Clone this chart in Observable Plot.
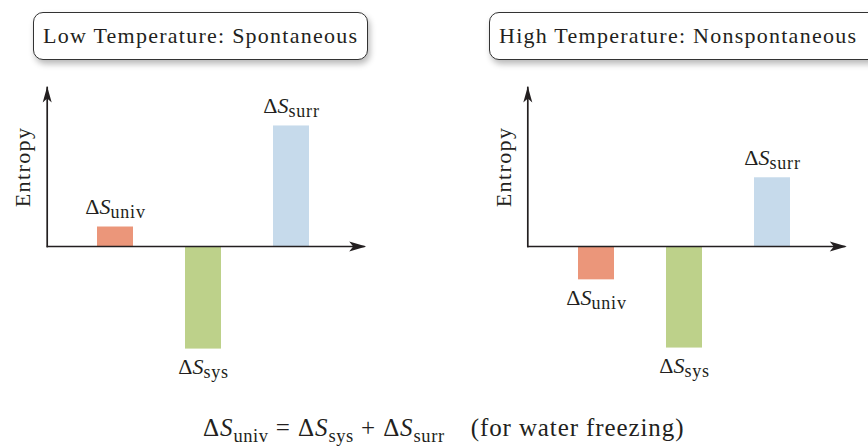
<!DOCTYPE html>
<html><head><meta charset="utf-8">
<script src="https://cdn.jsdelivr.net/npm/d3@7"></script>
<script src="https://cdn.jsdelivr.net/npm/@observablehq/plot@0.6"></script>
<style>
html,body{margin:0;padding:0;background:#fff;overflow:hidden;}
#wrap{position:relative;width:868px;height:446px;overflow:hidden;font-family:"Liberation Serif","Times New Roman",serif;color:#231f20;}
.tbox{position:absolute;top:12px;height:48px;box-sizing:border-box;border:1.4px solid #333;border-radius:10px;background:#fff;box-shadow:2px 4px 6px rgba(0,0,0,0.28);font-size:22px;letter-spacing:1.25px;line-height:45px;padding-left:9px;white-space:nowrap;}
.panel{position:absolute;top:70px;}
#formula{position:absolute;left:203px;top:414px;font-size:25px;letter-spacing:0.9px;line-height:28px;white-space:nowrap;}
#formula sub{font-size:18.5px;letter-spacing:0.6px;line-height:0;vertical-align:-0.3em;}
</style></head>
<body><div id="wrap"></div>
<script>
// ---- data ----
const categories = ["univ", "sys", "surr"];
const lowTempValues = [1.9, -10, 11.75];
const highTempValues = [-3.25, -9.9, 6.7];
const panelTitles = ["Low Temperature: Spontaneous", "High Temperature: Nonspontaneous"];
const barColors = ["#EB967A", "#BDD18A", "#C6DAEB"];
const yLabel = "Entropy";
const footNote = "(for water freezing)";

const ink = "#231f20";
const serif = "'Liberation Serif', 'Times New Roman', serif";
const wrap = document.getElementById("wrap");

const arrowUp = {draw(ctx) { ctx.moveTo(0, -1); ctx.lineTo(4.5, 15); ctx.lineTo(0, 11); ctx.lineTo(-4.5, 15); ctx.closePath(); }};
const arrowRight = {draw(ctx) { ctx.moveTo(1, 0); ctx.lineTo(-16, -5); ctx.lineTo(-12, 0); ctx.lineTo(-16, 5); ctx.closePath(); }};

function panel(values, title, pageLeft, marginLeft, boxLeft, boxWidth) {
  const data = categories.map((c, i) => ({name: c, value: values[i], label: "ΔS" + c}));
  const box = document.createElement("div");
  box.className = "tbox";
  box.style.left = boxLeft + "px";
  box.style.width = boxWidth + "px";
  box.textContent = title;
  wrap.appendChild(box);

  const svg = Plot.plot({
    width: 434, height: 330,
    marginTop: 17, marginBottom: 154, marginLeft, marginRight: 434 - marginLeft - 318,
    style: {background: "transparent", fontFamily: serif, color: ink, overflow: "visible"},
    x: {domain: categories, paddingInner: 0.594, paddingOuter: 0.589, align: 0.473, axis: null},
    y: {domain: [0, 15.5], axis: null},
    color: {domain: categories, range: barColors},
    marks: [
      Plot.barY(data, {x: "name", y: "value", fill: "name"}),
      Plot.frame({anchor: "left", stroke: ink, strokeWidth: 1.7}),
      Plot.ruleY([0], {stroke: ink, strokeWidth: 1.7}),
      Plot.dot([0], {frameAnchor: "top-left", symbol: arrowUp, fill: ink, stroke: "none"}),
      Plot.dot([0], {frameAnchor: "bottom-right", symbol: arrowRight, fill: ink, stroke: "none"}),
      Plot.text(data.filter(d => d.value > 0), {x: "name", y: "value", text: "label", dy: -13, lineAnchor: "bottom", fontSize: 22, fill: ink}),
      Plot.text(data.filter(d => d.value < 0), {x: "name", y: "value", text: "label", dy: 25, lineAnchor: "bottom", fontSize: 22, fill: ink}),
      Plot.text([yLabel], {frameAnchor: "left", rotate: -90, textAnchor: "middle", lineAnchor: "bottom", dx: -17, fontSize: 22, fill: ink})
    ]
  });
  d3.select(svg).selectAll("text").each(function () {
    const t = this.textContent;
    const s = d3.select(this);
    if (t === yLabel) { s.attr("letter-spacing", 1.4); return; }
    if (!t.startsWith("ΔS")) return;
    s.text(null);
    s.append("tspan").text("Δ");
    s.append("tspan").attr("font-style", "italic").text("S");
    s.append("tspan").attr("font-size", 18).attr("letter-spacing", 0.8).attr("dy", "0.22em").text(t.slice(2));
  });
  const holder = document.createElement("div");
  holder.className = "panel";
  holder.style.left = pageLeft + "px";
  holder.appendChild(svg);
  wrap.appendChild(holder);
}

panel(lowTempValues, panelTitles[0], 0, 46.7, 33, 335);
panel(highTempValues, panelTitles[1], 434, 93.3, 489, 394);

const f = document.createElement("div");
f.id = "formula";
const term = c => `Δ<i>S</i><sub>${c}</sub>`;
f.innerHTML = `${term(categories[0])} = ${term(categories[1])} + ${term(categories[2])}<span style="margin-left:26px">${footNote}</span>`;
wrap.appendChild(f);
</script>
</body></html>
